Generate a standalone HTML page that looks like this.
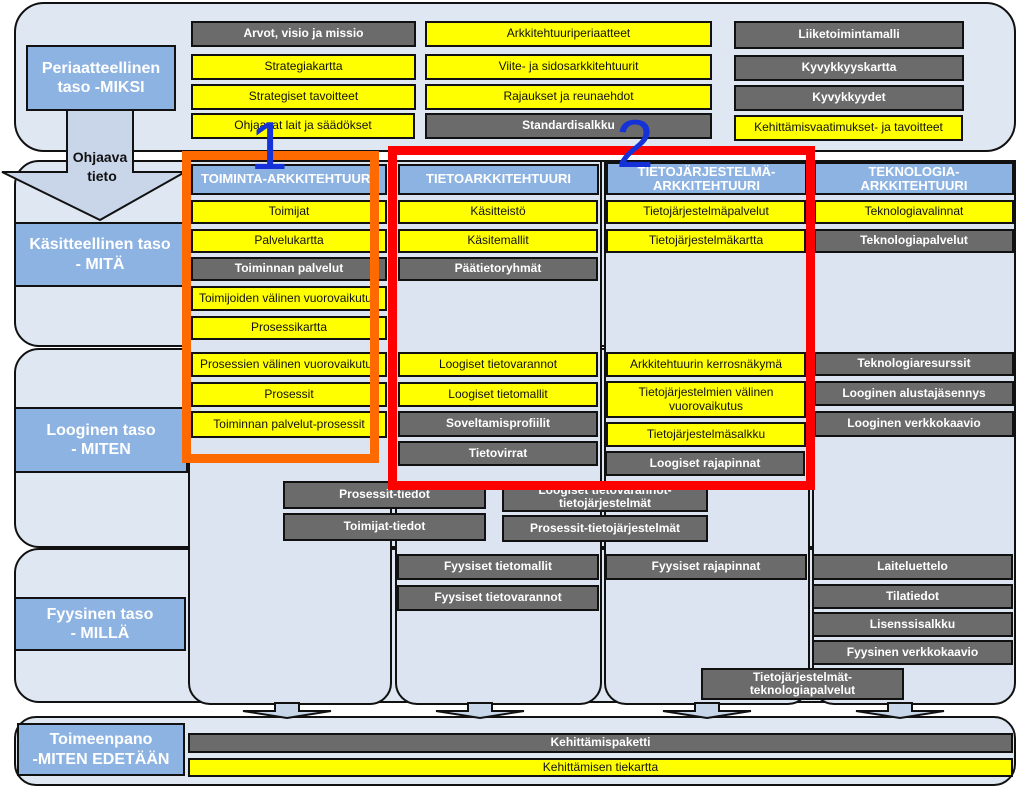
<!DOCTYPE html>
<html><head><meta charset="utf-8"><style>
body{margin:0;width:1024px;height:791px;background:#fff;position:relative;overflow:hidden;font-family:"Liberation Sans",sans-serif}
div{position:absolute;box-sizing:border-box}
.p{background:#dfe7f2;border:2px solid #111}
.b{display:flex;align-items:center;justify-content:center;text-align:center;font-size:12px;border:2px solid #111;line-height:1.1}
.g{background:#6b6b6b;color:#fff;font-weight:bold}
.y{background:#ffff00;color:#111}
.h{background:#8db3e2;color:#fff;font-weight:bold;font-size:13px;border:2px solid #111}
.l{background:#8db3e2;color:#fff;font-weight:bold;font-size:16px;border:2px solid #111;display:flex;align-items:center;justify-content:center;text-align:center;line-height:1.2}
</style></head><body>
<!-- panels -->
<div class="p" style="left:14px;top:2px;width:1002px;height:150px;border-radius:30px"></div>
<div class="p" style="left:14px;top:160px;width:1002px;height:187px;border-radius:25px"></div>
<div class="p" style="left:14px;top:348px;width:1002px;height:200px;border-radius:25px"></div>
<div class="p" style="left:14px;top:548px;width:1002px;height:155px;border-radius:25px"></div>
<div class="p" style="left:188px;top:160px;width:204px;height:545px;border-radius:0 0 22px 22px;background:#dbe4f0"></div>
<div class="p" style="left:395px;top:160px;width:207px;height:545px;border-radius:0 0 22px 22px;background:#dbe4f0"></div>
<div class="p" style="left:604px;top:160px;width:206px;height:545px;border-radius:0 0 22px 22px;background:#dbe4f0"></div>
<div class="p" style="left:812px;top:160px;width:204px;height:545px;border-radius:0 0 22px 22px;background:#dbe4f0"></div>
<div class="p" style="left:14px;top:716px;width:1002px;height:70px;border-radius:22px"></div>

<svg style="position:absolute;left:0;top:0" width="1024" height="791">
<g fill="#c8d6ea" stroke="#111" stroke-width="2">
<path d="M275 703v8h-32l44 7 44-7h-32v-8z"/>
<path d="M468 703v8h-32l44 7 44-7h-32v-8z"/>
<path d="M695 703v8h-32l44 7 44-7h-32v-8z"/>
<path d="M888 703v8h-32l44 7 44-7h-32v-8z"/>
</g>
<path d="M67 110h66v62h52l-85 48-98-48h65z" fill="#c9d6ea" stroke="#111" stroke-width="2"/>
<text x="100" y="162" font-family="Liberation Sans" font-weight="bold" font-size="14" text-anchor="middle" fill="#111">Ohjaava</text>
<text x="102" y="181" font-family="Liberation Sans" font-weight="bold" font-size="14" text-anchor="middle" fill="#111">tieto</text>
</svg>

<div class="l" style="left:26px;top:45px;width:150px;height:66px">Periaatteellinen<br>taso -MIKSI</div>
<div class="l" style="left:14px;top:222px;width:172px;height:65px">Käsitteellinen taso<br>- MITÄ</div>
<div class="l" style="left:14px;top:407px;width:174px;height:66px">Looginen taso<br>- MITEN</div>
<div class="l" style="left:14px;top:597px;width:172px;height:54px">Fyysinen taso<br>- MILLÄ</div>
<div class="l" style="left:17px;top:723px;width:168px;height:53px">Toimeenpano<br>-MITEN EDETÄÄN</div>

<div class="b g" style="left:191px;top:21px;width:225px;height:26px">Arvot, visio ja missio</div>
<div class="b y" style="left:191px;top:54px;width:225px;height:26px">Strategiakartta</div>
<div class="b y" style="left:191px;top:84px;width:225px;height:26px">Strategiset tavoitteet</div>
<div class="b y" style="left:191px;top:113px;width:224px;height:26px">Ohjaavat lait ja säädökset</div>
<div class="b y" style="left:425px;top:21px;width:287px;height:26px">Arkkitehtuuriperiaatteet</div>
<div class="b y" style="left:425px;top:54px;width:287px;height:26px">Viite- ja sidosarkkitehtuurit</div>
<div class="b y" style="left:425px;top:84px;width:287px;height:26px">Rajaukset ja reunaehdot</div>
<div class="b g" style="left:425px;top:113px;width:287px;height:26px">Standardisalkku</div>
<div class="b g" style="left:734px;top:21px;width:230px;height:28px">Liiketoimintamalli</div>
<div class="b g" style="left:734px;top:55px;width:230px;height:26px">Kyvykkyyskartta</div>
<div class="b g" style="left:734px;top:85px;width:230px;height:26px">Kyvykkyydet</div>
<div class="b y" style="left:734px;top:115px;width:229px;height:26px">Kehittämisvaatimukset- ja tavoitteet</div>

<div class="b h" style="left:191px;top:164px;width:196px;height:31px;justify-content:flex-start;padding-left:8px;white-space:nowrap;overflow:hidden">TOIMINTA-ARKKITEHTUURI</div>
<div class="b h" style="left:398px;top:164px;width:201px;height:31px">TIETOARKKITEHTUURI</div>
<div class="b h" style="left:606px;top:162px;width:201px;height:33px;line-height:1.05">TIETOJÄRJESTELMÄ-<br>ARKKITEHTUURI</div>
<div class="b h" style="left:814px;top:162px;width:200px;height:33px;line-height:1.05">TEKNOLOGIA-<br>ARKKITEHTUURI</div>

<div class="b y" style="left:191px;top:200px;width:196px;height:24px">Toimijat</div>
<div class="b y" style="left:191px;top:229px;width:196px;height:24px">Palvelukartta</div>
<div class="b g" style="left:191px;top:257px;width:196px;height:24px">Toiminnan palvelut</div>
<div class="b y" style="left:191px;top:286px;width:196px;height:25px;white-space:nowrap;overflow:hidden;justify-content:flex-start;padding-left:6px">Toimijoiden välinen vuorovaikutus</div>
<div class="b y" style="left:191px;top:316px;width:196px;height:24px">Prosessikartta</div>
<div class="b y" style="left:191px;top:352px;width:196px;height:25px;white-space:nowrap;overflow:hidden;justify-content:flex-start;padding-left:7px">Prosessien välinen vuorovaikutus</div>
<div class="b y" style="left:191px;top:382px;width:196px;height:25px">Prosessit</div>
<div class="b y" style="left:191px;top:411px;width:196px;height:27px">Toiminnan palvelut-prosessit</div>

<div class="b y" style="left:398px;top:200px;width:200px;height:24px">Käsitteistö</div>
<div class="b y" style="left:398px;top:229px;width:200px;height:24px">Käsitemallit</div>
<div class="b g" style="left:398px;top:257px;width:200px;height:24px">Päätietoryhmät</div>
<div class="b y" style="left:398px;top:352px;width:200px;height:25px">Loogiset tietovarannot</div>
<div class="b y" style="left:398px;top:382px;width:200px;height:25px">Loogiset tietomallit</div>
<div class="b g" style="left:398px;top:411px;width:200px;height:26px">Soveltamisprofiilit</div>
<div class="b g" style="left:398px;top:441px;width:200px;height:25px">Tietovirrat</div>
<div class="b g" style="left:397px;top:554px;width:202px;height:26px">Fyysiset tietomallit</div>
<div class="b g" style="left:397px;top:585px;width:202px;height:26px">Fyysiset tietovarannot</div>

<div class="b y" style="left:606px;top:200px;width:200px;height:24px">Tietojärjestelmäpalvelut</div>
<div class="b y" style="left:606px;top:229px;width:200px;height:24px">Tietojärjestelmäkartta</div>
<div class="b y" style="left:606px;top:352px;width:200px;height:25px">Arkkitehtuurin kerrosnäkymä</div>
<div class="b y" style="left:606px;top:381px;width:200px;height:37px">Tietojärjestelmien välinen<br>vuorovaikutus</div>
<div class="b y" style="left:606px;top:422px;width:200px;height:25px">Tietojärjestelmäsalkku</div>
<div class="b g" style="left:605px;top:451px;width:200px;height:25px">Loogiset rajapinnat</div>
<div class="b g" style="left:605px;top:554px;width:202px;height:26px">Fyysiset rajapinnat</div>

<div class="b y" style="left:814px;top:200px;width:200px;height:24px">Teknologiavalinnat</div>
<div class="b g" style="left:814px;top:229px;width:200px;height:24px">Teknologiapalvelut</div>
<div class="b g" style="left:814px;top:352px;width:200px;height:24px">Teknologiaresurssit</div>
<div class="b g" style="left:814px;top:381px;width:200px;height:25px">Looginen alustajäsennys</div>
<div class="b g" style="left:814px;top:411px;width:200px;height:26px">Looginen verkkokaavio</div>
<div class="b g" style="left:812px;top:554px;width:201px;height:26px">Laiteluettelo</div>
<div class="b g" style="left:812px;top:584px;width:201px;height:25px">Tilatiedot</div>
<div class="b g" style="left:812px;top:612px;width:201px;height:25px">Lisenssisalkku</div>
<div class="b g" style="left:812px;top:640px;width:201px;height:25px">Fyysinen verkkokaavio</div>

<div class="b g" style="left:283px;top:481px;width:203px;height:28px">Prosessit-tiedot</div>
<div class="b g" style="left:283px;top:513px;width:203px;height:28px">Toimijat-tiedot</div>
<div class="b g" style="left:502px;top:481px;width:206px;height:31px;line-height:1.05">Loogiset tietovarannot-<br>tietojärjestelmät</div>
<div class="b g" style="left:502px;top:515px;width:206px;height:27px">Prosessit-tietojärjestelmät</div>
<div class="b g" style="left:701px;top:668px;width:203px;height:32px;line-height:1.05">Tietojärjestelmät-<br>teknologiapalvelut</div>

<div class="b g" style="left:188px;top:733px;width:825px;height:20px">Kehittämispaketti</div>
<div class="b y" style="left:188px;top:758px;width:825px;height:19px">Kehittämisen tiekartta</div>

<div style="left:182px;top:151px;width:197px;height:312px;border:9px solid #ff6a00"></div>
<div style="left:388px;top:146px;width:427px;height:344px;border:9px solid #ff0000"></div>
<div style="left:250px;top:112px;font-size:68px;color:#1432d8;font-family:'Liberation Sans',sans-serif;line-height:1">1</div>
<div style="left:616px;top:110px;font-size:68px;color:#1432d8;font-family:'Liberation Sans',sans-serif;line-height:1">2</div>
</body></html>
